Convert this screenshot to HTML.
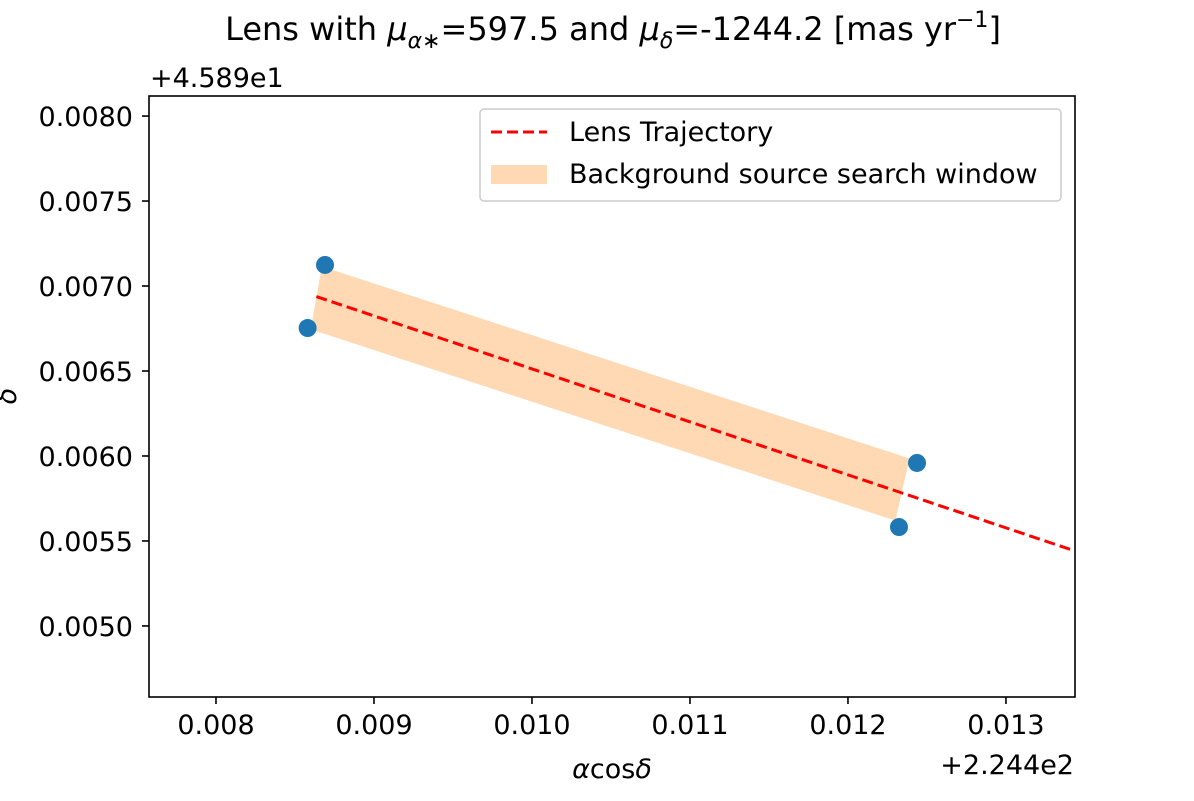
<!DOCTYPE html>
<html><head><meta charset="utf-8"><style>
body{margin:0;background:#fff;width:1194px;height:796px;overflow:hidden}
svg{font-family:"DejaVu Sans","Liberation Sans",sans-serif}
</style></head><body>
<svg id="c" width="1194" height="796">
<text x="613" y="40" font-size="32" text-anchor="middle">Lens with <tspan font-style="italic">μ</tspan><tspan font-size="22" dy="8" font-style="italic">α∗</tspan><tspan dy="-8">=597.5 and </tspan><tspan font-style="italic">μ</tspan><tspan font-size="22" dy="8" font-style="italic">δ</tspan><tspan dy="-8">=-1244.2 [mas yr</tspan><tspan font-size="22" dy="-13">−1</tspan><tspan dy="13">]</tspan></text>
<text x="150" y="87" font-size="27">+4.589e1</text>
<text x="1074" y="774" font-size="27" text-anchor="end">+2.244e2</text>
<text x="612" y="778" font-size="27" text-anchor="middle" font-style="italic">α<tspan font-style="normal">cos</tspan>δ</text>
<text transform="translate(16,396) rotate(-90)" font-size="27" text-anchor="middle" font-style="italic">δ</text>
<g id="plot"></g>
<rect x="149" y="96" width="926" height="601" fill="none" stroke="#000" stroke-width="1.6"/>
<g>
<rect x="480" y="109" width="581" height="92" rx="4" fill="#fff" fill-opacity="0.8" stroke="#ccc" stroke-width="1.5"/>
<line x1="491" y1="132" x2="547" y2="132" stroke="red" stroke-width="3" stroke-dasharray="11,5"/>
<text x="569" y="141" font-size="27">Lens Trajectory</text>
<rect x="491" y="165" width="56" height="19" fill="#ffd9b3"/>
<text x="569" y="183" font-size="27">Background source search window</text>
</g>
</svg>
<script>
const xTicks=[0.008,0.009,0.010,0.011,0.012,0.013];
const xTickLabels=["0.008","0.009","0.010","0.011","0.012","0.013"];
const yTicks=[0.0050,0.0055,0.0060,0.0065,0.0070,0.0075,0.0080];
const yTickLabels=["0.0050","0.0055","0.0060","0.0065","0.0070","0.0075","0.0080"];
const pointsX=[0.00869,0.00858,0.012437,0.012323];
const pointsY=[0.007124,0.006753,0.005959,0.005582];
const bandX=[0.00867,0.00860,0.012300,0.012390];
const bandY=[0.007115,0.006745,0.005620,0.005985];
const lineX=[0.008635,0.013437];
const lineY=[0.006938,0.005441];
const X=v=>149+(v-0.007576)/(0.013437-0.007576)*926;
const Y=v=>697-(v-0.004582)/(0.008118-0.004582)*601;
const NS="http://www.w3.org/2000/svg";
const g=document.getElementById('plot');
function mk(t,a){const e=document.createElementNS(NS,t);for(const k in a)e.setAttribute(k,a[k]);g.appendChild(e);return e;}
const poly=mk('polygon',{points:bandX.map((x,i)=>X(x)+','+Y(bandY[i])).join(' '),fill:'#ffd9b3'});


const ln=mk('line',{x1:X(lineX[0]),y1:Y(lineY[0]),x2:X(lineX[1]),y2:Y(lineY[1]),stroke:'red','stroke-width':3,'stroke-dasharray':'11,5'});


pointsX.forEach((x,i)=>{const c=mk('circle',{cx:X(x),cy:Y(pointsY[i]),r:9,fill:'#1f77b4'});

});
xTicks.forEach((v,i)=>{const x=X(v);
const t=mk('line',{x1:x,y1:697,x2:x,y2:704,stroke:'#000','stroke-width':1.6});


const l=mk('text',{x:x,y:734,'font-size':27,'text-anchor':'middle'});l.textContent=xTickLabels[i];

});
yTicks.forEach((v,i)=>{const y=Y(v);
const t=mk('line',{x1:142,y1:y,x2:149,y2:y,stroke:'#000','stroke-width':1.6});


const l=mk('text',{x:133,y:y+10,'font-size':27,'text-anchor':'end'});l.textContent=yTickLabels[i];

});
</script>
</body></html>
